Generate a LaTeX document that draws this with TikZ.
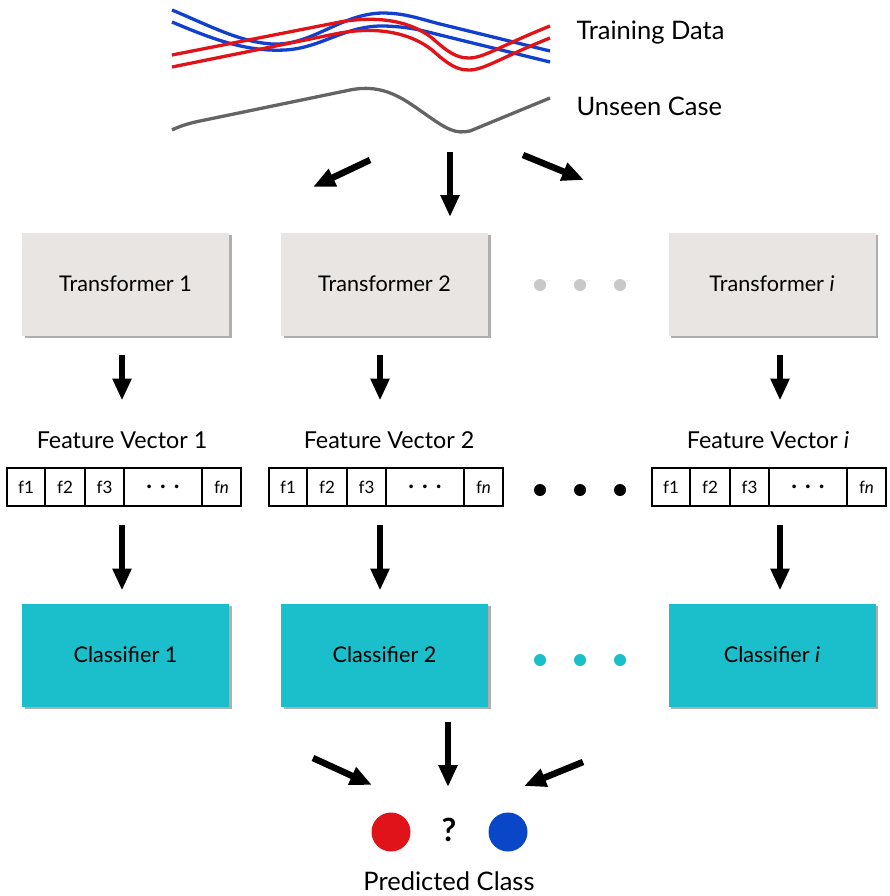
\documentclass[tikz,border=0pt]{standalone}
\usepackage{fontspec}
\setmainfont{Lato}
\usetikzlibrary{arrows.meta,shadows}
\definecolor{tgray}{RGB}{232,229,226}
\definecolor{ccyan}{RGB}{26,191,203}
\definecolor{lred}{RGB}{224,20,24}
\definecolor{lblue}{RGB}{18,64,206}
\definecolor{cblue}{RGB}{10,70,200}
\definecolor{lgray}{RGB}{100,100,100}
\definecolor{dgray}{RGB}{200,200,200}
\tikzset{
  box/.style={minimum width=207pt,minimum height=103pt,inner sep=0pt,outer sep=0pt,
    font=\fontsize{21.6}{25}\selectfont,
    drop shadow={shadow xshift=2.5pt,shadow yshift=-2.5pt,fill=black!45,opacity=.7}},
  tbox/.style={box,fill=tgray},
  cbox/.style={box,fill=ccyan},
  arr/.style={line width=6.5pt,-{Triangle[length=22pt,width=18pt]}},
  cell/.style={draw,line width=1.3pt,minimum height=38pt,inner sep=0pt,outer sep=0pt,anchor=west,
    font=\fontsize{17}{19}\selectfont},
  flabel/.style={font=\fontsize{23.3}{27}\selectfont,inner sep=0pt},
  curve/.style={line width=3.3pt},
  dot/.style={circle,inner sep=0pt,minimum size=12pt},
}
% one feature vector: #1 = name prefix, #2 = left x
\newcommand\featvec[2]{%
  \node[cell,minimum width=38pt] (#1a) at (#2,487) {f1};
  \node[cell,minimum width=40pt] (#1b) at (#1a.east) {f2};
  \node[cell,minimum width=39pt] (#1c) at (#1b.east) {f3};
  \node[cell,minimum width=78pt,font=\fontsize{24}{24}\selectfont\bfseries] (#1d) at (#1c.east) {.\,\,.\,\,.};
  \node[cell,minimum width=39pt] (#1e) at (#1d.east) {f\textit{n}};
}
\begin{document}
\begin{tikzpicture}[x=1pt,y=-1pt]
\useasboundingbox (0,0) rectangle (889,896);

% training curves
\draw[curve,lblue] (172,10) .. controls (210,26) and (240,42) .. (272,44)
  .. controls (312,46) and (340,14) .. (382,13) .. controls (405,13) and (420,19) .. (440,24) -- (550,51);
\draw[curve,lblue] (172,22) .. controls (210,38) and (245,52) .. (285,50)
  .. controls (322,48) and (345,25) .. (385,26) .. controls (410,27) and (420,30) .. (440,35) -- (550,62);
\draw[curve,lred] (172,55) -- (340,22) .. controls (380,15) and (412,22) .. (432,38)
  .. controls (448,52) and (456,58) .. (469,58) .. controls (484,58) and (500,46) .. (550,26);
\draw[curve,lred] (172,67) -- (340,33) .. controls (380,26) and (412,34) .. (432,50)
  .. controls (448,64) and (456,70) .. (469,70) .. controls (484,70) and (500,58) .. (550,38);
% unseen case
\draw[curve,lgray] (172,130) .. controls (180,126) and (190,123) .. (200,121) -- (350,90)
  .. controls (385,83) and (405,100) .. (428,116) .. controls (448,130) and (456,134) .. (470,131) -- (550,98);

\node[anchor=west,font=\fontsize{25.5}{29}\selectfont] (td) at (573,33) {Training Data};
\node[anchor=west,font=\fontsize{25.5}{29}\selectfont] (uc) at (573,106) {Unseen Case};

% transformers
\node[tbox] (t1) at (125.5,284) {Transformer 1};
\node[tbox] (t2) at (384.5,284) {Transformer 2};
\node[tbox] (ti) at (772,284) {Transformer \textit{i}};
\node[dot,fill=dgray] (gd1) at (540,285) {};
\node[dot,fill=dgray] (gd2) at (580,285) {};
\node[dot,fill=dgray] (gd3) at (620,285) {};

% arrows from unseen case to transformers
\coordinate (s1) at (370,160);
\coordinate (e1) at (313,187);
\coordinate (s2) at (450,152);
\coordinate (e2) at (450,217);
\coordinate (s3) at (523,155);
\coordinate (e3) at (584,180);
\draw[arr] (s1) -- (e1);
\draw[arr] (s2) -- (e2);
\draw[arr] (s3) -- (e3);

% feature vector labels
\node[flabel] (fl1) at (122,440) {Feature Vector 1};
\node[flabel] (fl2) at (389,440) {Feature Vector 2};
\node[flabel] (fli) at (768,440) {Feature Vector \textit{i}};

\draw[arr,shorten <=19pt] (t1.south -| 122,0) -- ++(0,65) coordinate (a1);
\draw[arr,shorten <=19pt] (t2.south -| 380,0) -- ++(0,65) coordinate (a2);
\draw[arr,shorten <=19pt] (ti.south -| 780,0) -- ++(0,65) coordinate (a3);

% feature vectors
\featvec{u}{7}
\featvec{v}{269}
\featvec{w}{652}
\node[dot,fill=black] (bd1) at (540,490) {};
\node[dot,fill=black] (bd2) at (580,490) {};
\node[dot,fill=black] (bd3) at (620,490) {};

% classifiers
\node[cbox] (c1) at (125.5,655) {Classifier 1};
\node[cbox] (c2) at (384.5,655) {Classifier 2};
\node[cbox] (ci) at (772,655) {Classifier \textit{i}};
\node[dot,fill=ccyan] (cd1) at (540,660) {};
\node[dot,fill=ccyan] (cd2) at (580,660) {};
\node[dot,fill=ccyan] (cd3) at (620,660) {};

\draw[arr,shorten <=19pt,shorten >=13pt] (ud.south -| 122,0) -- (c1.north -| 122,0);
\draw[arr,shorten <=19pt,shorten >=13pt] (vd.south -| 380,0) -- (c2.north -| 380,0);
\draw[arr,shorten <=19pt,shorten >=13pt] (wd.south -| 780,0) -- (ci.north -| 780,0);

% predicted class
\node[circle,fill=lred,minimum size=39pt,inner sep=0pt] (rc) at (391,832) {};
\node[circle,fill=cblue,minimum size=39pt,inner sep=0pt] (bc) at (508,832) {};
\node[font=\fontsize{32}{34}\selectfont\bfseries,inner sep=0pt] (q) at (449,830) {?};
\node[font=\fontsize{25.5}{29}\selectfont,inner sep=0pt] (pc) at (449,881) {Predicted Class};

\coordinate (b1) at (313,758);
\coordinate (b2) at (448,722);
\coordinate (b3) at (583,762);
\draw[arr] (b1) -- (372,785);
\draw[arr] (b2) -- (448,787);
\draw[arr] (b3) -- (524,786);
\end{tikzpicture}
\end{document}
